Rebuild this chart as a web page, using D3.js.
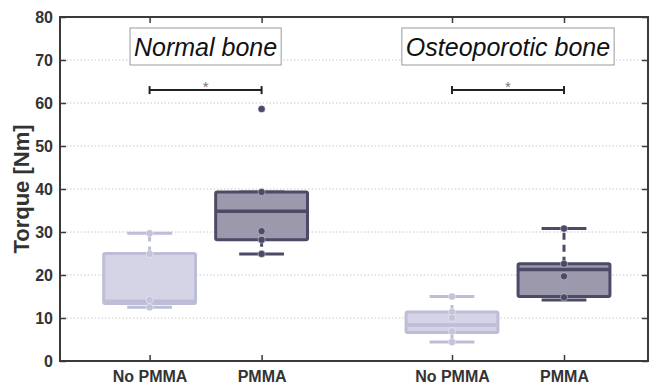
<!DOCTYPE html>
<html>
<head>
<meta charset="utf-8">
<script src="https://cdn.jsdelivr.net/npm/d3@7/dist/d3.min.js"></script>
<style>
  html, body { margin: 0; padding: 0; background: #fff; }
  svg { display: block; font-family: "Liberation Sans", Arial, Helvetica, sans-serif; }
</style>
</head>
<body>
<svg id="chart" width="651" height="385"></svg>
<script>
// Torque per bone type and treatment
const groups = ["Normal bone", "Osteoporotic bone"];
const conditions = ["No PMMA", "PMMA"];

// Box statistics, one entry per box: Normal/No PMMA, Normal/PMMA, Osteo/No PMMA, Osteo/PMMA
const lowerWhisker = [12.5, 24.9, 4.4, 14.2];
const q1 = [13.4, 28.2, 6.6, 15.0];
const median = [13.9, 34.8, 8.4, 21.3];
const q3 = [25.0, 39.3, 11.4, 22.6];
const upperWhisker = [29.7, 39.3, 15.0, 30.8];
const samples = [
  [29.7, 24.9, 14.2, 12.5],
  [39.3, 30.2, 28.2, 24.9],
  [15.0, 11.4, 10.0, 6.9, 4.4],
  [30.8, 22.6, 19.7, 14.8]
];
const outliers = [[], [58.6], [], []];
const yTicks = [0, 10, 20, 30, 40, 50, 60, 70, 80];
const significance = ["*", "*"];

const svg = d3.select("#chart");
const plotLeft = 60, plotRight = 648, plotTop = 17, plotBottom = 361;

const x = d3.scaleLinear().domain([0, 10.5]).range([plotLeft, plotRight]);
const y = d3.scaleLinear().domain([0, 80]).range([plotBottom, plotTop]);

const groupCenter = [2.6, 8.0];
const boxes = [];
groups.forEach((g, gi) => conditions.forEach((c, ci) => {
  boxes.push({ group: gi, cond: ci, pos: groupCenter[gi] + (ci === 0 ? -1 : 1) });
}));

const styles = [
  { fill: "#d4d4e6", stroke: "#bdbdd8", dot: "#c3c3da" },
  { fill: "#9b99ab", stroke: "#4b4a67", dot: "#4b4a67" }
];

// dotted grid
svg.append("g").selectAll("line").data(yTicks.filter(t => t > 0 && t < 80)).join("line")
  .attr("x1", plotLeft + 3).attr("x2", plotRight - 3)
  .attr("y1", d => y(d)).attr("y2", d => y(d))
  .attr("stroke", "#c8c8c8").attr("stroke-width", 1).attr("stroke-dasharray", "1.5,2");

// boxes
const boxHalf = (x(1.64) - x(0)) / 2;
const capHalf = (x(0.8) - x(0)) / 2;
const bg = svg.append("g");
boxes.forEach((b, i) => {
  const s = styles[b.cond];
  const cx = x(b.pos);
  const g = bg.append("g");
  // whiskers
  g.append("line").attr("x1", cx).attr("x2", cx).attr("y1", y(q3[i])).attr("y2", y(upperWhisker[i]))
    .attr("stroke", s.stroke).attr("stroke-width", 3).attr("stroke-dasharray", "7,5");
  g.append("line").attr("x1", cx).attr("x2", cx).attr("y1", y(q1[i])).attr("y2", y(lowerWhisker[i]))
    .attr("stroke", s.stroke).attr("stroke-width", 3).attr("stroke-dasharray", "7,5");
  // caps
  [upperWhisker[i], lowerWhisker[i]].forEach(v => {
    g.append("line").attr("x1", cx - capHalf).attr("x2", cx + capHalf).attr("y1", y(v)).attr("y2", y(v))
      .attr("stroke", s.stroke).attr("stroke-width", 3);
  });
  // box
  g.append("rect").attr("x", cx - boxHalf).attr("width", 2 * boxHalf)
    .attr("y", y(q3[i])).attr("height", y(q1[i]) - y(q3[i]))
    .attr("rx", 1.5)
    .attr("fill", s.fill).attr("stroke", s.stroke).attr("stroke-width", 3);
  g.append("line").attr("x1", cx - boxHalf).attr("x2", cx + boxHalf)
    .attr("y1", y(median[i])).attr("y2", y(median[i]))
    .attr("stroke", s.stroke).attr("stroke-width", 3.5);
  // sample points and outliers
  g.selectAll("circle.pt").data(samples[i].concat(outliers[i])).join("circle")
    .attr("class", "pt")
    .attr("cx", cx).attr("cy", d => y(d)).attr("r", 3.6)
    .attr("fill", s.dot).attr("stroke", "#ffffff").attr("stroke-opacity", 0.5).attr("stroke-width", 0.8);
});

// group title boxes
const titleG = svg.append("g");
groups.forEach((g, gi) => {
  const cx = (x(groupCenter[gi] - 1) + x(groupCenter[gi] + 1)) / 2;
  const t = titleG.append("text").attr("x", cx).attr("y", 56)
    .attr("text-anchor", "middle").attr("font-style", "italic")
    .attr("font-size", 25).attr("fill", "#111").text(g);
  const bb = t.node().getBBox();
  titleG.insert("rect", "text")
    .attr("x", bb.x - 4).attr("y", 28).attr("width", bb.width + 8).attr("height", 37)
    .attr("fill", "#fff").attr("stroke", "#9a9a9a").attr("stroke-width", 1);
});

// significance brackets
const bracketY = y(63.0);
groups.forEach((g, gi) => {
  const x1 = x(groupCenter[gi] - 1), x2 = x(groupCenter[gi] + 1);
  const br = svg.append("g").attr("stroke", "#222").attr("stroke-width", 2).attr("fill", "none");
  br.append("line").attr("x1", x1).attr("x2", x2).attr("y1", bracketY).attr("y2", bracketY);
  br.append("line").attr("x1", x1).attr("x2", x1).attr("y1", bracketY - 4).attr("y2", bracketY + 4);
  br.append("line").attr("x1", x2).attr("x2", x2).attr("y1", bracketY - 4).attr("y2", bracketY + 4);
  svg.append("text").attr("x", (x1 + x2) / 2).attr("y", bracketY + 2)
    .attr("text-anchor", "middle").attr("font-size", 15).attr("fill", "#777").text(significance[gi]);
});

// frame and ticks
const axisColor = "#3a3a3a";
svg.append("rect").attr("x", plotLeft).attr("y", plotTop).attr("width", plotRight - plotLeft).attr("height", plotBottom - plotTop)
  .attr("fill", "none").attr("stroke", axisColor).attr("stroke-width", 2);

const yAxis = d3.axisLeft(y).tickValues(yTicks).tickSizeInner(-6).tickSizeOuter(0).tickPadding(7);
const yg = svg.append("g").attr("transform", `translate(${plotLeft},0)`).call(yAxis);
yg.select(".domain").remove();
yg.selectAll(".tick line").attr("stroke", axisColor).attr("stroke-width", 1.5);
yg.selectAll(".tick text").attr("font-size", 16).attr("font-weight", "bold").attr("fill", "#333")
  .attr("font-family", "Liberation Sans, Arial, sans-serif");

const yAxisR = d3.axisRight(y).tickValues(yTicks).tickSizeInner(-6).tickSizeOuter(0).tickFormat("");
const yr = svg.append("g").attr("transform", `translate(${plotRight},0)`).call(yAxisR);
yr.select(".domain").remove();
yr.selectAll(".tick line").attr("stroke", axisColor).attr("stroke-width", 1.5);

const tickPos = boxes.map(b => b.pos);
const xAxis = d3.axisBottom(x).tickValues(tickPos).tickSizeInner(-6).tickSizeOuter(0).tickPadding(0)
  .tickFormat((d, i) => conditions[boxes[i].cond]);
const xg = svg.append("g").attr("transform", `translate(0,${plotBottom})`).call(xAxis);
xg.select(".domain").remove();
xg.selectAll(".tick line").attr("stroke", axisColor).attr("stroke-width", 1.5);
xg.selectAll(".tick text").attr("font-size", 16).attr("font-weight", "bold").attr("fill", "#333")
  .attr("dy", null).attr("y", 21).attr("font-family", "Liberation Sans, Arial, sans-serif");

const xTop = d3.axisTop(x).tickValues(tickPos).tickSizeInner(-6).tickSizeOuter(0).tickFormat("");
const xt = svg.append("g").attr("transform", `translate(0,${plotTop})`).call(xTop);
xt.select(".domain").remove();
xt.selectAll(".tick line").attr("stroke", axisColor).attr("stroke-width", 1.5);

// y axis title
svg.append("text").attr("transform", `translate(29,${(plotTop + plotBottom) / 2}) rotate(-90)`)
  .attr("text-anchor", "middle").attr("font-size", 22).attr("font-weight", "bold").attr("fill", "#333")
  .text("Torque [Nm]");
</script>
</body>
</html>
